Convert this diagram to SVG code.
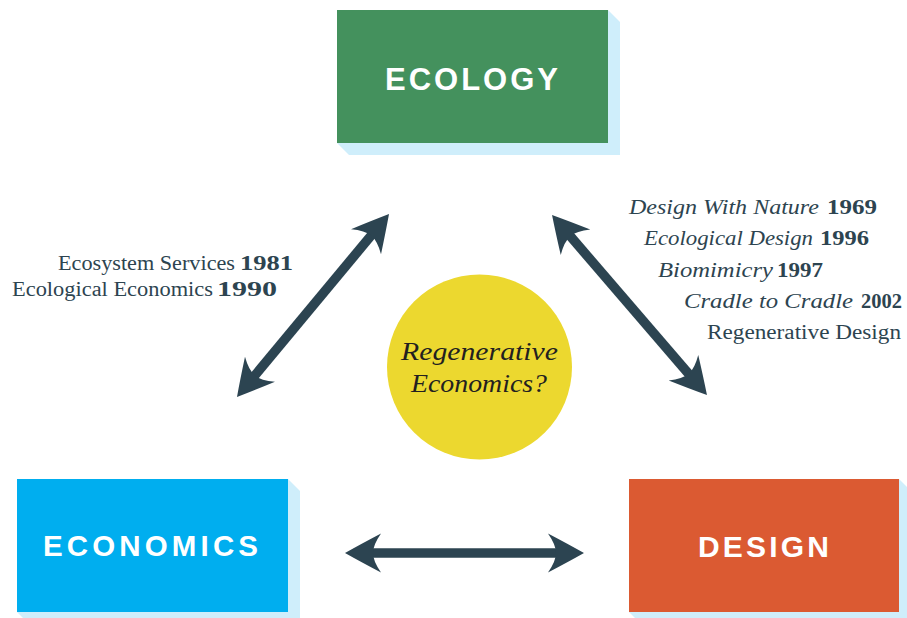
<svg xmlns="http://www.w3.org/2000/svg" width="907" height="618" viewBox="0 0 907 618">
<style>
.shadow{fill:#cfeefb}
.label{font-family:"Liberation Sans",Arial,sans-serif;font-weight:bold;fill:#ffffff}
.note{font-family:"Liberation Serif","Times New Roman",serif;font-size:20.5px;fill:#2d4450}
.it{font-style:italic}
.b{font-weight:bold}
.conn{stroke:#2c4451;stroke-width:9.5;fill:none;marker-start:url(#head);marker-end:url(#head)}
.center{font-family:"Liberation Serif","Times New Roman",serif;font-style:italic;font-size:26px;fill:#231f20}
</style>
<defs>
<marker id="head" markerUnits="userSpaceOnUse" markerWidth="1" markerHeight="1" refX="0" refY="0" orient="auto-start-reverse" overflow="visible">
<path d="M26,0 Q10,-9 -10,-19.5 Q-2,-8 -2,0 Q-2,8 -10,19.5 Q10,9 26,0 Z" fill="#2c4451"/>
</marker>
</defs>
<rect width="907" height="618" fill="#ffffff"/>
<g id="connectors">
<line class="conn" x1="253.6" y1="377" x2="372.4" y2="234"/>
<line class="conn" x1="569" y1="234.7" x2="690" y2="375.3"/>
<line class="conn" x1="371" y1="553" x2="558" y2="553"/>
</g>
<g id="ecology">
<polygon class="shadow" points="608,10 620,22 620,155 349,155 337,143"/>
<rect x="337" y="10" width="271" height="133" fill="#44915d"/>
<text class="label" x="385" y="90" font-size="31" textLength="173" lengthAdjust="spacing">ECOLOGY</text>
</g>
<g id="economics">
<polygon class="shadow" points="288,479 300,491 300,624 29,624 17,612"/>
<rect x="17" y="479" width="271" height="133" fill="#00aeef"/>
<text class="label" x="43" y="556" font-size="29.5" textLength="215" lengthAdjust="spacing">ECONOMICS</text>
</g>
<g id="design">
<polygon class="shadow" points="899,479 911,491 911,624 641,624 629,612"/>
<rect x="629" y="479" width="270" height="133" fill="#db5a32"/>
<text class="label" x="698" y="557" font-size="30" textLength="131" lengthAdjust="spacing">DESIGN</text>
</g>
<g id="regenerative-economics">
<circle cx="479.5" cy="367" r="92.5" fill="#ecd82f"/>
<text class="center" x="401" y="360" textLength="157" lengthAdjust="spacingAndGlyphs">Regenerative</text>
<text class="center" x="411" y="392" textLength="136" lengthAdjust="spacingAndGlyphs">Economics?</text>
</g>
<g id="economics-ecology-notes">
<text class="note"><tspan x="58" y="270" textLength="177" lengthAdjust="spacingAndGlyphs">Ecosystem Services</tspan><tspan class="b" x="240" y="270" textLength="53" lengthAdjust="spacingAndGlyphs">1981</tspan></text>
<text class="note"><tspan x="12" y="296" textLength="201" lengthAdjust="spacingAndGlyphs">Ecological Economics</tspan><tspan class="b" x="217" y="296" textLength="60" lengthAdjust="spacingAndGlyphs">1990</tspan></text>
</g>
<g id="ecology-design-notes">
<text class="note"><tspan class="it" x="629" y="213.5" textLength="190" lengthAdjust="spacingAndGlyphs">Design With Nature</tspan><tspan class="b" x="827" y="213.5" textLength="50" lengthAdjust="spacingAndGlyphs">1969</tspan></text>
<text class="note"><tspan class="it" x="644" y="245" textLength="169" lengthAdjust="spacingAndGlyphs">Ecological Design</tspan><tspan class="b" x="820" y="245" textLength="49" lengthAdjust="spacingAndGlyphs">1996</tspan></text>
<text class="note"><tspan class="it" x="658" y="276.5" textLength="115" lengthAdjust="spacingAndGlyphs">Biomimicry</tspan><tspan class="b" x="777" y="276.5" textLength="46" lengthAdjust="spacingAndGlyphs">1997</tspan></text>
<text class="note"><tspan class="it" x="684" y="307.5" textLength="169" lengthAdjust="spacingAndGlyphs">Cradle to Cradle</tspan><tspan class="b" x="861" y="307.5" textLength="41" lengthAdjust="spacingAndGlyphs">2002</tspan></text>
<text class="note" x="707" y="339" textLength="194" lengthAdjust="spacingAndGlyphs">Regenerative Design</text>
</g>
</svg>
